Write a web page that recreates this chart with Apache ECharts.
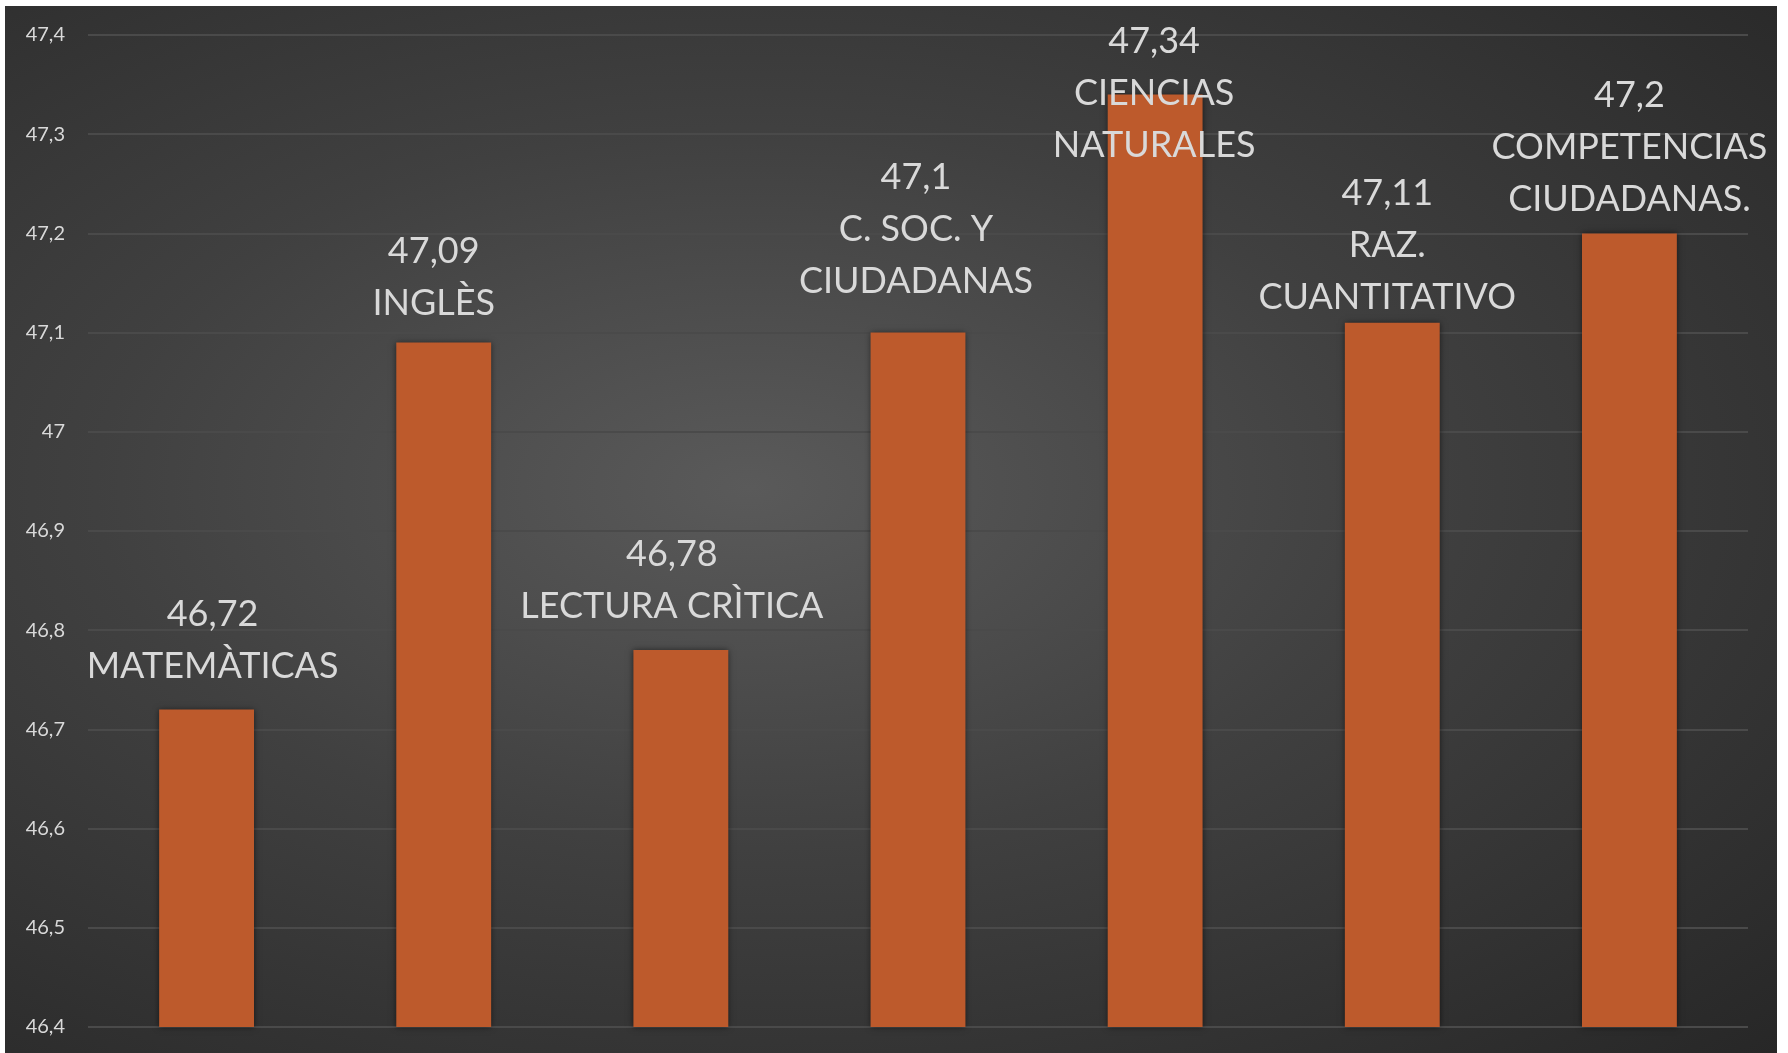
<!DOCTYPE html>
<html>
<head>
<meta charset="utf-8">
<script src="https://cdn.jsdelivr.net/npm/echarts@6/dist/echarts.min.js"></script>
<style>
  html, body { margin: 0; padding: 0; background: #ffffff; width: 1788px; height: 1053px; overflow: hidden; }
  #chart {
    position: absolute; left: 5px; top: 6px; width: 1772px; height: 1047px;
    background: radial-gradient(ellipse farthest-corner at 42% 46%, #5a5a5a 0%, #404040 45%, #272727 100%);
  }
</style>
</head>
<body>
<div id="chart"></div>
<script>
// ---- data ----
const categories = [
  'MATEMÀTICAS',
  'INGLÈS',
  'LECTURA CRÌTICA',
  'C. SOC. Y\nCIUDADANAS',
  'CIENCIAS\nNATURALES',
  'RAZ.\nCUANTITATIVO',
  'COMPETENCIAS\nCIUDADANAS.'
];
const values = [46.72, 47.09, 46.78, 47.1, 47.34, 47.11, 47.2];
const yTicks = { min: 46.4, max: 47.4, step: 0.1 };

// ---- layout (label placement relative to each bar, px) ----
const labelGap = [17, 13, 18, 25, -77, -1, 8];
const labelShift = [6, -10, -9, -2, -1, -5, 0];

function fmt(v) {
  const r = Math.round(v * 100) / 100;
  return String(r).replace('.', ',');
}

const chart = echarts.init(document.getElementById('chart'), null, { renderer: 'canvas' });

const option = {
  backgroundColor: 'transparent',
  animation: false,
  grid: { left: 83, right: 29, top: 29, bottom: 26, containLabel: false },
  xAxis: {
    type: 'category',
    data: categories,
    axisLine: { show: false },
    axisTick: { show: false },
    axisLabel: { show: false },
    splitLine: { show: false }
  },
  yAxis: {
    type: 'value',
    min: yTicks.min,
    max: yTicks.max,
    interval: yTicks.step,
    axisLine: { show: false },
    axisTick: { show: false },
    axisLabel: {
      color: '#d9d9d9',
      fontFamily: 'Lato',
      fontSize: 20,
      margin: 23,
      formatter: function (v) { return String(Math.round(v * 10) / 10).replace('.', ','); }
    },
    splitLine: { show: true, lineStyle: { color: '#4a4a4a', width: 2 } }
  },
  series: [{
    type: 'bar',
    barWidth: '40%',
    data: values.map(function (v, i) {
      return { value: v, label: { distance: labelGap[i], offset: [labelShift[i], 0] } };
    }),
    itemStyle: {
      color: '#bd5a2c',
      shadowColor: 'rgba(0,0,0,0.55)',
      shadowBlur: 6
    },
    label: {
      show: true,
      position: 'top',
      color: '#d9d9d9',
      fontFamily: 'Lato',
      fontSize: 36,
      lineHeight: 52,
      align: 'center',
      formatter: function (p) { return fmt(p.value) + '\n' + p.name; }
    }
  }]
};

chart.setOption(option);
</script>
</body>
</html>
